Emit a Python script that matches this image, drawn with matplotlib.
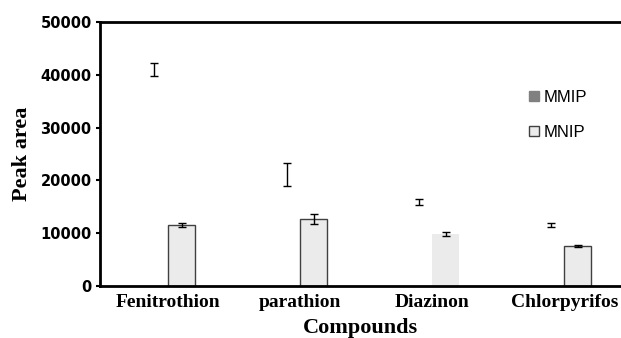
import matplotlib.pyplot as plt
from matplotlib.patches import Patch
import numpy as np

compounds = ['Fenitrothion', 'parathion', 'Diazinon', 'Chlorpyrifos']
mmip = [41000, 21100, 15900, 11550]
mmip_err = [1200, 2200, 570, 380]
mnip = [11550, 12700, 9850, 7600]
mnip_err = [450, 900, 380, 250]
yticks = [0, 10000, 20000, 30000, 40000, 50000]

fig = plt.figure(figsize=(6.21, 3.38), dpi=100)
ax = fig.add_axes([100 / 621, 1 - 286 / 338, 1 - 100 / 621, (286 - 22) / 338])

x = np.arange(len(compounds))
w = 0.205

# MMIP bars are blank in the original, only the error bars show
ax.bar(x - w / 2, mmip, w, color='none', edgecolor='none',
       yerr=mmip_err, error_kw=dict(ecolor='black', elinewidth=1, capsize=3, capthick=1))

edges = ['#404040', '#404040', 'none', '#404040']
ax.bar(x + w / 2, mnip, w, color='#ebebeb', edgecolor=edges, linewidth=1,
       yerr=mnip_err, error_kw=dict(ecolor='black', elinewidth=1, capsize=3, capthick=1))

ax.set_xlim(-0.515, 3.43)
ax.set_ylim(0, 50000)
ax.set_yticks(yticks)
ax.set_yticklabels([str(t) for t in yticks], fontsize=10.5, fontweight='bold',
                   family='DejaVu Sans')
ax.set_xticks(x)
ax.set_xticklabels(compounds, fontsize=14, fontweight='bold', family='Liberation Serif')
ax.tick_params(axis='x', length=0, pad=6)
ax.tick_params(axis='y', length=3, width=1.5, direction='out', pad=3)

ax.set_xlabel('Compounds', fontsize=16, fontweight='bold', family='Liberation Serif', labelpad=5)
ax.set_ylabel('Peak area', fontsize=16, fontweight='bold', family='Liberation Serif', labelpad=6)

for s in ['left', 'bottom', 'top']:
    ax.spines[s].set_linewidth(2)
ax.spines['right'].set_visible(False)

handles = [Patch(facecolor='#808080', edgecolor='#808080', label='MMIP'),
           Patch(facecolor='#ebebeb', edgecolor='#404040', label='MNIP')]
fig.legend(handles=handles, loc='upper left', bbox_to_anchor=(514 / 621, 1 - 75 / 338),
           frameon=False, prop={'family': 'Liberation Sans', 'size': 12},
           handlelength=0.6, handleheight=0.6, handletextpad=0.3, labelspacing=1.2)

fig.savefig('out.png', dpi=100)
